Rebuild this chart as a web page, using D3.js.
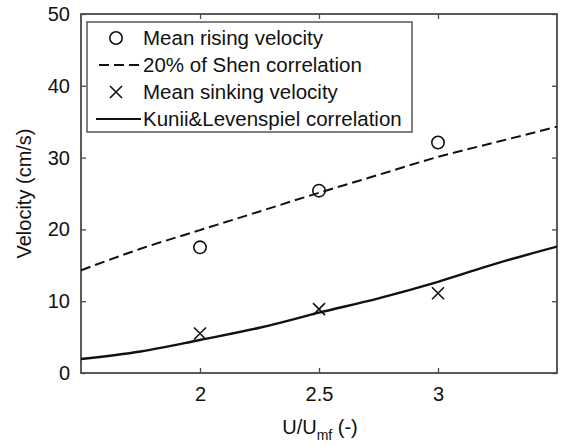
<!DOCTYPE html>
<html lang="en">
<head>
<meta charset="utf-8">
<title>Velocity vs U/Umf</title>
<script src="https://d3js.org/d3.v7.min.js"></script>
<style>
  body { margin: 0; background: #fff; }
  svg { display: block; font-family: "Liberation Sans", Arial, sans-serif; }
  .leg-text { font-size: 20.5px; fill: #111; }
</style>
</head>
<body>
<div id="vis"></div>
<script>
// values
var xTicks = [2, 2.5, 3];
var yTicks = [0, 10, 20, 30, 40, 50];

var ratio = [2, 2.5, 3];               // U/Umf of the measurements
var risingVel = [17.5, 25.4, 32.1];    // mean rising velocity (cm/s)
var sinkingVel = [5.5, 8.9, 11.1];     // mean sinking velocity (cm/s)

var corrX = [1.5, 1.75, 2, 2.25, 2.5, 2.75, 3, 3.25, 3.5];
var shen  = [14.3, 17.3, 19.9, 22.5, 25.1, 27.6, 30.1, 32.2, 34.3];
var kunii = [1.95, 3.0, 4.6, 6.3, 8.4, 10.4, 12.7, 15.3, 17.6];

var legendLabels = ["Mean rising velocity", "20% of Shen correlation",
                    "Mean sinking velocity", "Kunii&Levenspiel correlation"];

var W = 564, H = 445;
var m = { left: 81, right: 557, top: 14, bottom: 373 };
var axisColor = "#4a4a4a";

var svg = d3.select("#vis").append("svg")
    .attr("width", W)
    .attr("height", H);

var x = d3.scaleLinear().domain([1.5, 3.5]).range([m.left, m.right]);
var y = d3.scaleLinear().domain([0, 50]).range([m.bottom, m.top]);

svg.append("clipPath").attr("id", "plotclip")
  .append("rect")
    .attr("x", m.left).attr("y", m.top)
    .attr("width", m.right - m.left).attr("height", m.bottom - m.top);

// axes: matlab style, ticks inward on all four sides
var tickLen = 5;
var xAxis = d3.axisBottom(x).tickValues(xTicks).tickSize(-tickLen).tickPadding(14).tickFormat(d3.format("~g"));
var yAxis = d3.axisLeft(y).tickValues(yTicks).tickSize(-tickLen).tickPadding(11);
var xAxisTop = d3.axisTop(x).tickValues(xTicks).tickSize(-tickLen).tickFormat("");
var yAxisRight = d3.axisRight(y).tickValues(yTicks).tickSize(-tickLen).tickFormat("");

function styleAxis(g) {
  g.select(".domain").remove();
  g.attr("font-size", 20).attr("font-family", null);
  g.selectAll(".tick line").attr("stroke", axisColor).attr("stroke-width", 1.3);
  g.selectAll(".tick text").attr("fill", "#111");
}

svg.append("g").attr("transform", "translate(0," + m.bottom + ")").call(xAxis).call(styleAxis);
svg.append("g").attr("transform", "translate(" + m.left + ",0)").call(yAxis).call(styleAxis);
svg.append("g").attr("transform", "translate(0," + m.top + ")").call(xAxisTop).call(styleAxis);
svg.append("g").attr("transform", "translate(" + m.right + ",0)").call(yAxisRight).call(styleAxis);

// plot box
svg.append("rect")
    .attr("x", m.left).attr("y", m.top)
    .attr("width", m.right - m.left).attr("height", m.bottom - m.top)
    .attr("fill", "none")
    .attr("stroke", axisColor)
    .attr("stroke-width", 1.8);

// correlation curves
var line = d3.line()
    .x(function(d){ return x(d[0]); })
    .y(function(d){ return y(d[1]); })
    .curve(d3.curveMonotoneX);

var plot = svg.append("g").attr("clip-path", "url(#plotclip)");

plot.append("path")
    .attr("d", line(d3.zip(corrX, shen)))
    .attr("fill", "none")
    .attr("stroke", "#111")
    .attr("stroke-width", 2)
    .attr("stroke-dasharray", "10,5");

plot.append("path")
    .attr("d", line(d3.zip(corrX, kunii)))
    .attr("fill", "none")
    .attr("stroke", "#111")
    .attr("stroke-width", 2.4);

// markers
var mr = 6.2;
plot.selectAll(".rise").data(d3.zip(ratio, risingVel)).enter()
  .append("circle")
    .attr("cx", function(d){ return x(d[0]); })
    .attr("cy", function(d){ return y(d[1]); })
    .attr("r", mr)
    .attr("fill", "none")
    .attr("stroke", "#111")
    .attr("stroke-width", 1.6);

function cross(g, cx, cy, s) {
  g.append("path")
    .attr("d", "M" + (cx - s) + "," + (cy - s) + "L" + (cx + s) + "," + (cy + s) +
               "M" + (cx - s) + "," + (cy + s) + "L" + (cx + s) + "," + (cy - s))
    .attr("fill", "none")
    .attr("stroke", "#111")
    .attr("stroke-width", 1.6);
}
d3.zip(ratio, sinkingVel).forEach(function(d){ cross(plot, x(d[0]), y(d[1]), 6); });

// legend
var leg = svg.append("g");
leg.append("rect")
    .attr("x", 87).attr("y", 22)
    .attr("width", 325).attr("height", 110)
    .attr("fill", "#fff")
    .attr("stroke", axisColor)
    .attr("stroke-width", 1.4);

var rowY = function(i){ return 38 + i * 27; };
var symX = 116, lineX0 = 99, lineX1 = 141, textX = 143;

leg.append("circle").attr("cx", symX).attr("cy", rowY(0)).attr("r", mr)
    .attr("fill", "none").attr("stroke", "#111").attr("stroke-width", 1.6);
leg.append("line").attr("x1", lineX0).attr("x2", lineX1).attr("y1", rowY(1)).attr("y2", rowY(1))
    .attr("stroke", "#111").attr("stroke-width", 2).attr("stroke-dasharray", "10,5");
cross(leg, symX, rowY(2), 6);
leg.append("line").attr("x1", lineX0 - 3).attr("x2", lineX1).attr("y1", rowY(3)).attr("y2", rowY(3))
    .attr("stroke", "#111").attr("stroke-width", 2);

legendLabels.forEach(function(t, i){
  leg.append("text")
    .attr("class", "leg-text")
    .attr("x", textX)
    .attr("y", rowY(i) + 7)
    .text(t);
});

// axis titles
svg.append("text")
    .attr("transform", "translate(31," + ((m.top + m.bottom) / 2) + ") rotate(-90)")
    .attr("text-anchor", "middle")
    .attr("font-size", 20)
    .attr("fill", "#111")
    .text("Velocity (cm/s)");

var xl = svg.append("text")
    .attr("x", (m.left + m.right) / 2 + 1)
    .attr("y", 434)
    .attr("text-anchor", "middle")
    .attr("font-size", 20)
    .attr("fill", "#111");
xl.append("tspan").text("U/U");
xl.append("tspan").attr("font-size", 14).attr("dy", 6).text("mf");
xl.append("tspan").attr("dy", -6).text(" (-)");
</script>
</body>
</html>
